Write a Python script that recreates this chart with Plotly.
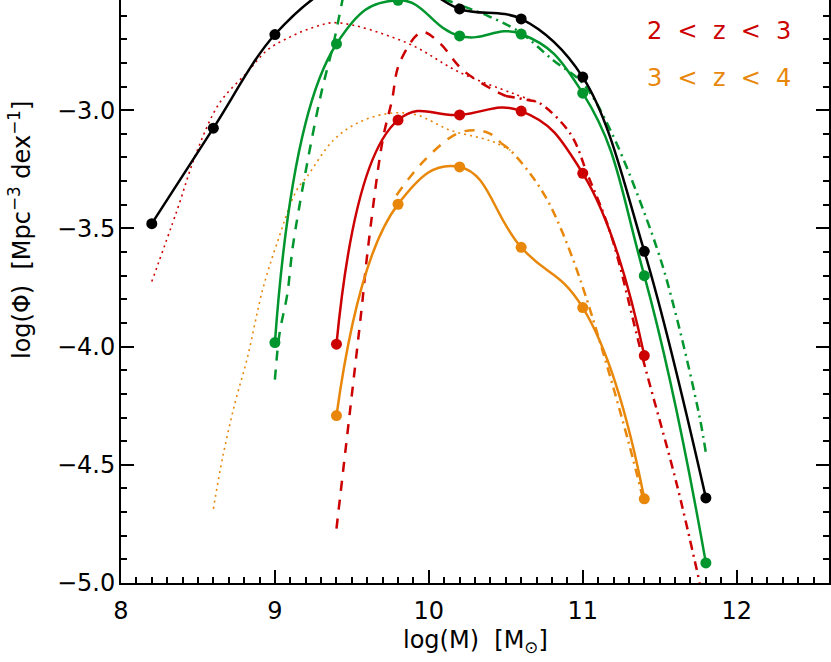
import plotly.graph_objects as go

# mass bins (log M) for the measured points
mass_all = [8.2, 8.6, 9.0, 9.4, 9.8, 10.2, 10.6, 11.0, 11.4, 11.8]
phi_black = [-3.48, -3.076, -2.68, -2.47, -2.43, -2.572, -2.614, -2.86, -3.597, -4.64]

mass_green = [9.0, 9.4, 9.8, 10.2, 10.6, 11.0, 11.4, 11.8]
phi_green = [-3.983, -2.72, -2.535, -2.686, -2.678, -2.928, -3.70, -4.915]

mass_z23 = [9.4, 9.8, 10.2, 10.6, 11.0, 11.4]
phi_red = [-3.99, -3.042, -3.02, -3.004, -3.267, -4.038]
phi_orange = [-4.292, -3.398, -3.24, -3.58, -3.835, -4.644]

# model curves
green_dash_x = [9.0, 9.03, 9.08, 9.12, 9.29, 9.38, 9.44]
green_dash_y = [-4.14, -3.945, -3.78, -3.56, -2.96, -2.72, -2.53]
green_dashdot_x = [10.1, 10.2, 10.38, 10.59, 10.81, 11.0, 11.18, 11.48, 11.61, 11.76, 11.8]
green_dashdot_y = [-2.53, -2.555, -2.60, -2.67, -2.79, -2.886, -3.085, -3.58, -3.877, -4.30, -4.45]

red_dash_x = [9.40, 9.49, 9.565, 9.60, 9.70, 9.76, 9.81, 9.955, 10.07, 10.22, 10.42, 10.5]
red_dash_y = [-4.77, -4.26, -3.83, -3.61, -3.127, -2.96, -2.80, -2.67, -2.716, -2.83, -2.915, -2.94]
red_dashdot_x = [10.5, 10.65, 10.72, 10.92, 11.03, 11.18, 11.39, 11.61, 11.76]
red_dashdot_y = [-2.94, -2.958, -2.97, -3.10, -3.27, -3.52, -4.05, -4.58, -5.0]
red_dot_x = [8.2, 8.364, 8.49, 8.64, 8.82, 8.95, 9.10, 9.25, 9.40, 9.86, 10.2, 10.55, 10.7]
red_dot_y = [-3.725, -3.424, -3.18, -2.97, -2.84, -2.746, -2.69, -2.65, -2.63, -2.716, -2.84, -2.93, -2.965]

orange_dash_x = [9.79, 9.96, 10.18, 10.31, 10.40, 10.47]
orange_dash_y = [-3.36, -3.22, -3.10, -3.085, -3.10, -3.14]
orange_dashdot_x = [10.47, 10.53, 10.66, 10.77, 10.87, 10.98, 11.13, 11.3, 11.4]
orange_dashdot_y = [-3.14, -3.17, -3.27, -3.38, -3.52, -3.71, -4.02, -4.41, -4.665]
orange_dot_x = [8.6, 8.66, 8.74, 8.82, 8.92, 9.01, 9.14, 9.21, 9.38, 9.55, 9.75, 9.92, 10.14, 10.35, 10.44, 10.53]
orange_dot_y = [-4.686, -4.47, -4.24, -4.05, -3.76, -3.57, -3.34, -3.28, -3.127, -3.05, -3.013, -3.02, -3.085, -3.12, -3.14, -3.17]

BLACK = "#000000"
GREEN = "#00962d"
RED = "#cc0000"
ORANGE = "#e8870a"

fig = go.Figure()


def model(x, y, color, dash, width=2.5):
    fig.add_trace(go.Scatter(x=x, y=y, mode="lines",
                             line=dict(color=color, width=width, dash=dash, shape="spline"),
                             showlegend=False, hoverinfo="skip"))


def data(x, y, color, smooth=1.3):
    fig.add_trace(go.Scatter(x=x, y=y, mode="lines+markers",
                             line=dict(color=color, width=2.5, shape="spline", smoothing=smooth),
                             marker=dict(color=color, size=11),
                             showlegend=False))


model(red_dot_x, red_dot_y, RED, "2px,4px", 1.6)
model(orange_dot_x, orange_dot_y, ORANGE, "2px,4px", 1.6)
model(green_dash_x, green_dash_y, GREEN, "10px,9px")
model(green_dashdot_x, green_dashdot_y, GREEN, "9px,5px,2px,5px")
model(red_dash_x, red_dash_y, RED, "10px,9px")
model(red_dashdot_x, red_dashdot_y, RED, "9px,5px,2px,5px")
model(orange_dash_x, orange_dash_y, ORANGE, "10px,9px")
model(orange_dashdot_x, orange_dashdot_y, ORANGE, "9px,5px,2px,5px")

data(mass_all, phi_black, BLACK, 1.0)
data(mass_green, phi_green, GREEN)
data(mass_z23, phi_red, RED)
data(mass_z23, phi_orange, ORANGE)

FONT = "DejaVu Sans"

fig.update_xaxes(range=[8, 12.6], tick0=8, dtick=1, ticks="inside", ticklen=13, tickwidth=2,
                 tickcolor="black", showline=True, linewidth=2, linecolor="black",
                 showgrid=False, zeroline=False, ticklabelstandoff=5,
                 minor=dict(dtick=0.1, ticks="inside", ticklen=6, tickwidth=2, tickcolor="black"),
                 tickfont=dict(family=FONT, size=24, color="black"))
fig.update_yaxes(range=[-5.0, -2.534], tick0=-5, dtick=0.5, tickformat=".1f",
                 ticks="inside", ticklen=13, tickwidth=2, tickcolor="black",
                 showline=True, linewidth=2, linecolor="black", mirror="ticks",
                 showgrid=False, zeroline=False, ticklabelstandoff=-1,
                 minor=dict(dtick=0.1, ticks="inside", ticklen=6, tickwidth=2, tickcolor="black"),
                 tickfont=dict(family=FONT, size=24, color="black"))

nb = "\u00a0"
fig.add_annotation(text="2" + nb * 2 + "<" + nb * 2 + "z" + nb * 2 + "<" + nb * 2 + "3",
                   xref="paper", yref="paper", x=(645 - 121) / 708, y=(583 - 31) / 583,
                   xanchor="left", yanchor="middle", showarrow=False,
                   font=dict(family=FONT, size=24, color=RED))
fig.add_annotation(text="3" + nb * 2 + "<" + nb * 2 + "z" + nb * 2 + "<" + nb * 2 + "4",
                   xref="paper", yref="paper", x=(645 - 121) / 708, y=(583 - 78) / 583,
                   xanchor="left", yanchor="middle", showarrow=False,
                   font=dict(family=FONT, size=24, color=ORANGE))
# partly cropped top tick label
fig.add_annotation(text="\u22122.5", xref="paper", yref="y", x=(110 - 121) / 708, y=-2.5,
                   xanchor="right", yanchor="middle", showarrow=False,
                   font=dict(family=FONT, size=24, color="black"))
fig.add_annotation(text="log(M)" + nb * 2 + "[M<sub>\u2299</sub>]",
                   xref="paper", yref="paper", x=0.5, y=(583 - 641) / 583,
                   xanchor="center", yanchor="middle", showarrow=False,
                   font=dict(family=FONT, size=24, color="black"))
fig.add_annotation(text="log(\u03a6)" + nb * 2 + "[Mpc<sup>\u22123</sup> dex<sup>\u22121</sup>]",
                   xref="paper", yref="paper", x=(20 - 121) / 708, y=(583 - 230) / 583,
                   xanchor="center", yanchor="middle", showarrow=False, textangle=-90,
                   font=dict(family=FONT, size=24, color="black"))

fig.update_layout(width=831, height=662, plot_bgcolor="white", paper_bgcolor="white",
                  margin=dict(l=121, r=2, t=0, b=79), showlegend=False)

fig.write_html("out.html", config={"displayModeBar": False},
               post_script="document.body.style.margin='0';")
